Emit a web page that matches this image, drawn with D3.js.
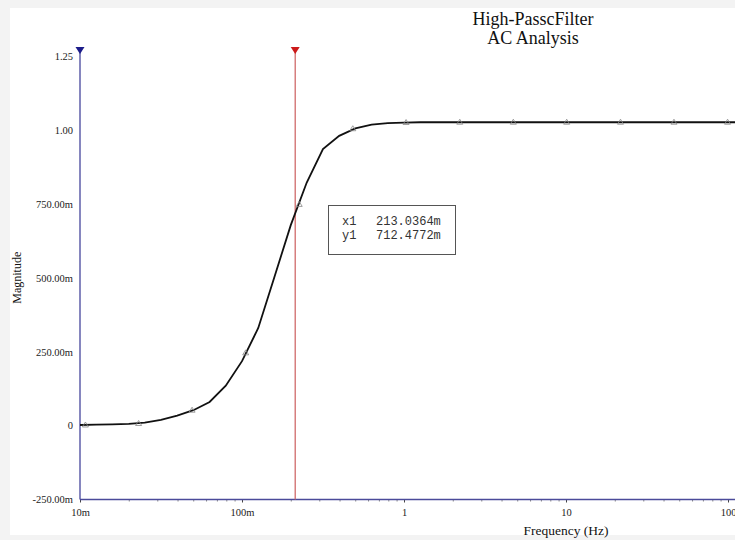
<!DOCTYPE html>
<html>
<head>
<meta charset="utf-8">
<script src="https://cdn.jsdelivr.net/npm/d3@7"></script>
<style>
body { margin: 0; background: #f3f3f3; }
svg { display: block; }
.tick-label { font-family: "Liberation Serif", "Times New Roman", serif; font-size: 10.5px; fill: #222; }
.title { font-family: "Liberation Serif", "Times New Roman", serif; font-size: 18px; fill: #111; }
.axis-title { font-family: "Liberation Serif", "Times New Roman", serif; fill: #111; }
.cursor-text { font-family: "Liberation Mono", "Courier New", monospace; font-size: 12px; fill: #333; }
</style>
</head>
<body>
<div id="graphdiv"></div>
<script>
document.addEventListener("DOMContentLoaded", init);

// trace, 10 points per decade (Hz -> magnitude)
var freqs = [0.01, 0.0126, 0.0158, 0.02, 0.0251, 0.0316, 0.0398, 0.0501, 0.0631, 0.0794,
             0.1, 0.126, 0.158, 0.2, 0.251, 0.316, 0.398, 0.501, 0.631, 0.794,
             1, 1.26, 1.58, 2, 2.51, 3.16, 3.98, 5.01, 6.31, 7.94,
             10, 12.6, 15.8, 20, 25.1, 31.6, 39.8, 50.1, 63.1, 79.4, 100, 126];
var mags = [0.002, 0.003, 0.004, 0.006, 0.010, 0.019, 0.034, 0.052, 0.080, 0.135,
            0.218, 0.330, 0.500, 0.678, 0.822, 0.935, 0.980, 1.005, 1.018, 1.023,
            1.025, 1.026, 1.026, 1.026, 1.026, 1.026, 1.026, 1.026, 1.026, 1.026,
            1.026, 1.026, 1.026, 1.026, 1.026, 1.026, 1.026, 1.026, 1.026, 1.026, 1.026, 1.026];

// triangle markers on the trace
var markerFreqs = [0.0108, 0.0230, 0.0492, 0.1054, 0.2255, 0.483, 1.03, 2.21, 4.73, 10.1, 21.7, 46.4, 99.4];
var markerMags = [0.002, 0.007, 0.052, 0.246, 0.748, 1.004, 1.025, 1.026, 1.026, 1.026, 1.026, 1.026, 1.026];

var xTickValues = [0.01, 0.1, 1, 10, 100];
var xTickLabels = ["10m", "100m", "1", "10", "100"];
var yTickValues = [1.25, 1.0, 0.75, 0.5, 0.25, 0, -0.25];
var yTickLabels = ["1.25", "1.00", "750.00m", "500.00m", "250.00m", "0", "-250.00m"];

var cursor1 = 0.0100;   // blue cursor (at left edge)
var cursor2 = 0.2130364; // red cursor
var readout = [["x1", "213.0364m"], ["y1", "712.4772m"]];

function init() {
    var svg = d3.select("#graphdiv").append("svg").attr("id", "graph").attr("width", 735).attr("height", 540);
    svg.append("rect").attr("x", 10).attr("y", 8).attr("width", 725).attr("height", 527).attr("fill", "#fff");

    var x = d3.scaleLog().domain([0.01, 100]).range([80, 728]);
    var y = d3.scaleLinear().domain([-0.25, 1.25]).range([499.5, 56]);

    // title
    svg.append("text").attr("class", "title").attr("x", 533).attr("y", 25).attr("text-anchor", "middle").text("High-PasscFilter");
    svg.append("text").attr("class", "title").attr("x", 533).attr("y", 44).attr("text-anchor", "middle").text("AC Analysis");

    // bottom axis: minor ticks then decade ticks
    var minor = x.ticks().filter(function(d) { return xTickValues.indexOf(d) < 0; });
    var minorAxis = d3.axisBottom(x).tickValues(minor).tickSize(2).tickFormat("");
    var ga = svg.append("g").attr("transform", "translate(0," + y(-0.25) + ")").call(minorAxis);
    ga.select(".domain").remove();
    ga.selectAll("line").attr("stroke", "#888");
    var majorAxis = d3.axisBottom(x).tickValues(xTickValues).tickSize(3).tickPadding(6)
        .tickFormat(function(d, i) { return xTickLabels[i]; });
    var gb = svg.append("g").attr("transform", "translate(0," + y(-0.25) + ")").call(majorAxis);
    gb.select(".domain").remove();
    gb.selectAll("line").attr("stroke", "#444");
    gb.selectAll("text").attr("class", "tick-label").attr("font-family", null).attr("font-size", null).attr("fill", null);
    svg.append("line").attr("x1", 80).attr("x2", 735).attr("y1", y(-0.25)).attr("y2", y(-0.25))
        .attr("stroke", "#4b4b9a").attr("stroke-width", 1.3);

    // left axis labels
    var yAxis = d3.axisLeft(y).tickValues(yTickValues).tickSize(0).tickPadding(7)
        .tickFormat(function(d, i) { return yTickLabels[i]; });
    var gy = svg.append("g").attr("transform", "translate(80,0)").call(yAxis);
    gy.select(".domain").remove();
    gy.selectAll("text").attr("class", "tick-label").attr("font-family", null).attr("font-size", null).attr("fill", null);

    svg.append("text").attr("class", "axis-title").attr("font-size", "13.5px").attr("x", 566).attr("y", 535)
        .attr("text-anchor", "middle").text("Frequency (Hz)");
    svg.append("text").attr("class", "axis-title").attr("font-size", "12px").attr("text-anchor", "middle")
        .attr("transform", "translate(21," + y(0.5) + ") rotate(-90)").text("Magnitude");

    // cursors
    var cursors = [{f: cursor1, line: "#45459c", head: "#1c1c8a"}, {f: cursor2, line: "#d06a6a", head: "#cc1a1a"}];
    cursors.forEach(function(c) {
        var cx = x(c.f);
        svg.append("line").attr("x1", cx).attr("x2", cx).attr("y1", 50).attr("y2", y(-0.25))
            .attr("stroke", c.line).attr("stroke-width", 1.3);
        svg.append("path").attr("d", "M" + (cx - 4.5) + ",47 L" + (cx + 4.5) + ",47 L" + cx + ",54 Z").attr("fill", c.head);
    });

    // trace
    var pts = freqs.map(function(f, i) { return [f, mags[i]]; });
    var line = d3.line().x(function(d) { return x(d[0]); }).y(function(d) { return y(d[1]); });
    svg.append("path").attr("d", line(pts)).attr("fill", "none").attr("stroke", "#111").attr("stroke-width", 1.8);

    var marks = markerFreqs.map(function(f, i) { return [x(f), y(markerMags[i])]; });
    svg.selectAll(".mark").data(marks).enter().append("path").attr("class", "mark")
        .attr("d", function(d) { return "M" + (d[0] - 3) + "," + (d[1] + 2) + " L" + (d[0] + 3) + "," + (d[1] + 2) + " L" + d[0] + "," + (d[1] - 3) + " Z"; })
        .attr("fill", "none").attr("stroke", "#888").attr("stroke-width", 0.8);

    // readout box
    svg.append("rect").attr("x", 328.5).attr("y", 205.5).attr("width", 127).attr("height", 49)
        .attr("fill", "#fff").attr("stroke", "#555").attr("stroke-width", 1);
    readout.forEach(function(r, i) {
        svg.append("text").attr("class", "cursor-text").attr("x", 342).attr("y", 225 + i * 14).text(r[0]);
        svg.append("text").attr("class", "cursor-text").attr("x", 376).attr("y", 225 + i * 14).text(r[1]);
    });
}
</script>
</body>
</html>
